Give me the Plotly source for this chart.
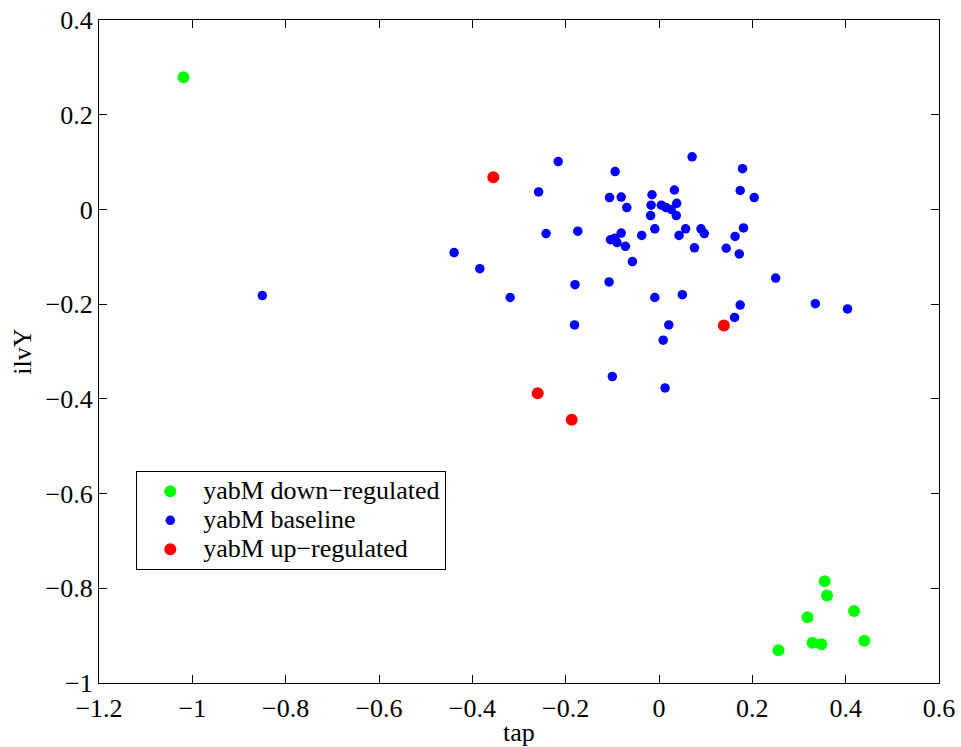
import plotly.graph_objects as go

# tap / ilvY expression pairs, grouped by yabM state
down_tap = [-1.019, 0.355, 0.360, 0.318, 0.418, 0.329, 0.348, 0.440, 0.256]
down_ilvY = [0.279, -0.785, -0.815, -0.861, -0.848, -0.915, -0.918, -0.911, -0.931]

base_tap = [
    -0.850, -0.439, -0.384, -0.319, -0.216, -0.258, -0.242, -0.174, -0.180,
    -0.094, -0.106, -0.081, -0.069, -0.081, -0.104, -0.095, -0.090, -0.072,
    -0.057, -0.107, 0.071, 0.179, 0.174, 0.204, -0.015, 0.033, -0.017,
    0.005, 0.015, 0.026, 0.038, 0.037, -0.018, -0.009, -0.037, 0.043,
    0.057, 0.090, 0.097, 0.076, 0.163, 0.181, 0.144, 0.172, 0.250,
    -0.009, 0.050, 0.174, 0.162, -0.181, 0.021, 0.009, -0.100, 0.013,
    0.335, 0.404,
]
base_ilvY = [
    -0.182, -0.091, -0.125, -0.186, 0.101, 0.037, -0.051, -0.046, -0.159,
    0.080, 0.025, 0.026, 0.004, -0.050, -0.064, -0.061, -0.070, -0.078,
    -0.110, -0.153, 0.111, 0.086, 0.040, 0.025, 0.031, 0.041, 0.009,
    0.009, 0.004, 0.000, 0.013, -0.013, -0.013, -0.041, -0.055, -0.055,
    -0.041, -0.041, -0.051, -0.081, -0.057, -0.039, -0.082, -0.094, -0.145,
    -0.186, -0.180, -0.202, -0.228, -0.244, -0.244, -0.276, -0.353, -0.377,
    -0.199, -0.210,
]

up_tap = [-0.355, 0.139, -0.260, -0.187]
up_ilvY = [0.068, -0.245, -0.388, -0.444]

x_ticks = [-1.2, -1.0, -0.8, -0.6, -0.4, -0.2, 0.0, 0.2, 0.4, 0.6]
y_ticks = [0.4, 0.2, 0.0, -0.2, -0.4, -0.6, -0.8, -1.0]

FONT = "Liberation Serif, Times New Roman, serif"


def legend_label(text):
    # larger glyphs than the legend's base font keep the rows tightly packed
    return f'<span style="font-size:26px">{text}</span>'


fig = go.Figure()
fig.add_trace(go.Scatter(x=down_tap, y=down_ilvY, mode="markers",
                         name=legend_label("yabM down\u2212regulated"),
                         marker=dict(color="#00FF00", size=12)))
fig.add_trace(go.Scatter(x=base_tap, y=base_ilvY, mode="markers",
                         name=legend_label("yabM baseline"),
                         marker=dict(color="#0000FF", size=9.5)))
fig.add_trace(go.Scatter(x=up_tap, y=up_ilvY, mode="markers",
                         name=legend_label("yabM up\u2212regulated"),
                         marker=dict(color="#FF0000", size=12)))

axis_common = dict(
    showgrid=False, zeroline=False, showline=True, linecolor="black",
    linewidth=1.3, mirror="ticks", ticks="inside", ticklen=8,
    tickcolor="black", tickwidth=1, automargin=False,
    tickfont=dict(family=FONT, size=26, color="black"),
)

fig.update_layout(
    width=961, height=747,
    margin=dict(l=99, r=22, t=20, b=64),
    paper_bgcolor="white", plot_bgcolor="white",
    font=dict(family=FONT, size=26, color="black"),
    xaxis=dict(range=[-1.2, 0.6], tickvals=x_ticks, ticklabelstandoff=2,
               title=dict(text="tap", font=dict(family=FONT, size=26), standoff=4),
               **axis_common),
    yaxis=dict(range=[-1.0, 0.4], tickvals=y_ticks,
               title=dict(text="ilvY", font=dict(family=FONT, size=26), standoff=6),
               **axis_common),
    legend=dict(x=0.0444, y=0.32, xanchor="left", yanchor="top",
                bgcolor="white", bordercolor="black", borderwidth=1,
                font=dict(family=FONT, size=20, color="black"),
                itemwidth=56),
    showlegend=True,
)

fig.write_html("out.html")
